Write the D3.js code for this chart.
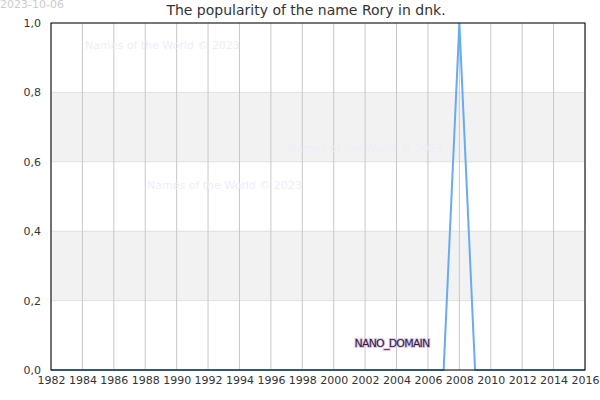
<!DOCTYPE html><html><head><script src="https://d3js.org/d3.v7.min.js"></script>
<style>body{margin:0;background:#fff}text{font-family:"DejaVu Sans"}</style></head><body><script>
const years=[1982,1983,1984,1985,1986,1987,1988,1989,1990,1991,1992,1993,1994,1995,1996,1997,1998,1999,2000,2001,2002,2003,2004,2005,2006,2007,2008,2009,2010,2011,2012,2013,2014,2015,2016];
const values=[0,0,0,0,0,0,0,0,0,0,0,0,0,0,0,0,0,0,0,0,0,0,0,0,0,0,1,0,0,0,0,0,0,0,0];
const xTicks=[1982,1984,1986,1988,1990,1992,1994,1996,1998,2000,2002,2004,2006,2008,2010,2012,2014,2016];
const yTicks=[0,0.2,0.4,0.6,0.8,1.0];
const svg=d3.select("body").append("svg").attr("width",600).attr("height",400);
const L=51,R=585,T=23,B=370;
const x=d3.scaleLinear().domain([1982,2016]).range([L,R]);
const y=d3.scaleLinear().domain([0,1]).range([B,T]);
[[0.2,0.4],[0.6,0.8]].forEach(b=>svg.append("rect").attr("x",L).attr("width",R-L).attr("y",y(b[1])).attr("height",y(b[0])-y(b[1])).attr("fill","#f2f2f2"));
yTicks.forEach(t=>svg.append("line").attr("x1",L).attr("x2",R).attr("y1",y(t)).attr("y2",y(t)).attr("stroke","#e0e0e0"));
xTicks.forEach(t=>svg.append("line").attr("x1",x(t)).attr("x2",x(t)).attr("y1",T).attr("y2",B).attr("stroke","#c8c8c8"));
const wm=[[85,49],[288,152],[147,189]];
wm.forEach(p=>svg.append("text").attr("x",p[0]).attr("y",p[1]).attr("font-size",11).attr("fill","#eeeefa").text("Names of the World © 2023"));
svg.append("path").datum(years.map((d,i)=>[d,values[i]])).attr("fill","none").attr("stroke","#6aaaf0").attr("stroke-width",2)
 .attr("d",d3.line().x(d=>x(d[0])).y(d=>y(d[1])));
svg.append("text").attr("x",392).attr("y",347).attr("text-anchor","middle").attr("font-size",11).attr("fill","#3a1a3a").attr("stroke","#d8c8e8").attr("stroke-width",2).attr("paint-order","stroke").attr("letter-spacing",-0.8).text("NANO_DOMAIN");
svg.append("rect").attr("x",L).attr("y",T).attr("width",R-L).attr("height",B-T).attr("fill","none").attr("stroke","#000");
svg.append("g").attr("transform",`translate(0,${B})`).call(d3.axisBottom(x).tickValues(xTicks).tickFormat(d3.format("d")).tickSize(0).tickPadding(6))
 .call(g=>{g.select(".domain").remove();g.selectAll("text").attr("font-size",11).attr("fill","#333").attr("font-family","DejaVu Sans");});
svg.append("g").attr("transform",`translate(${L},0)`).call(d3.axisLeft(y).tickValues(yTicks).tickFormat(d=>d3.format(".1f")(d).replace(".",",")).tickSize(0).tickPadding(10))
 .call(g=>{g.select(".domain").remove();g.selectAll("text").attr("font-size",11).attr("fill","#333").attr("font-family","DejaVu Sans");});
svg.append("text").attr("x",306).attr("y",15).attr("text-anchor","middle").attr("font-size",14).attr("fill","#333").text("The popularity of the name Rory in dnk.");
svg.append("text").attr("x",0).attr("y",8).attr("font-size",11).attr("fill","#ccc").text("2023-10-06");
</script></body></html>
